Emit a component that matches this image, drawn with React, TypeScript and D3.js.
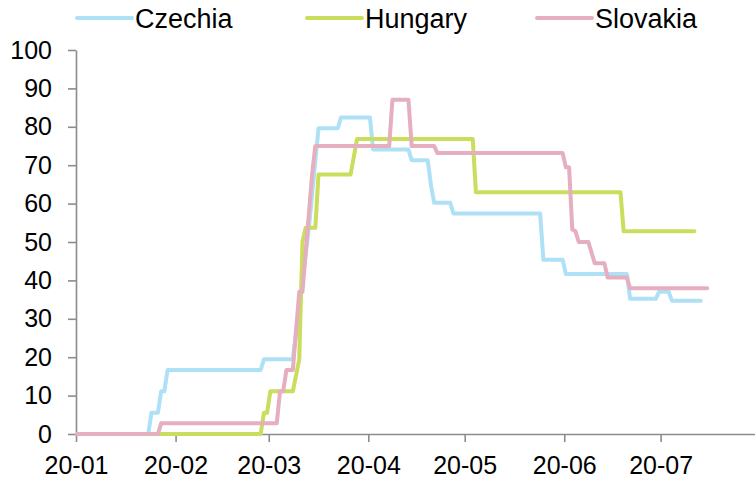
import React, { useEffect, useRef } from 'react';
import * as d3 from 'd3';

// stringency index, breakpoints of the daily step series
const czechiaDates = ["2020-01-01","2020-01-23","2020-01-24","2020-01-26","2020-01-27","2020-01-28","2020-01-29","2020-02-27","2020-02-28","2020-03-08","2020-03-13","2020-03-16","2020-03-22","2020-03-23","2020-04-01","2020-04-02","2020-04-13","2020-04-14","2020-04-19","2020-04-20","2020-04-21","2020-04-26","2020-04-27","2020-05-24","2020-05-25","2020-05-31","2020-06-01","2020-06-20","2020-06-21","2020-06-29","2020-06-30","2020-07-03","2020-07-04","2020-07-13"];
const czechiaValues = [0,0,5.56,5.56,11.11,11.11,16.67,16.67,19.44,19.44,53.7,79.63,79.63,82.41,82.41,74.07,74.07,71.3,71.3,64.81,60.19,60.19,57.41,57.41,45.37,45.37,41.67,41.67,35.19,35.19,37.04,37.04,34.72,34.72];

const hungaryDates = ["2020-01-01","2020-02-27","2020-02-28","2020-02-29","2020-03-01","2020-03-08","2020-03-10","2020-03-11","2020-03-12","2020-03-15","2020-03-16","2020-03-26","2020-03-28","2020-05-03","2020-05-04","2020-06-18","2020-06-19","2020-07-11"];
const hungaryValues = [0,0,5.56,5.56,11.11,11.11,19.44,50,53.7,53.7,67.59,67.59,76.85,76.85,62.96,62.96,52.78,52.78];

const slovakiaDates = ["2020-01-01","2020-01-26","2020-01-27","2020-03-03","2020-03-04","2020-03-05","2020-03-06","2020-03-08","2020-03-10","2020-03-11","2020-03-14","2020-03-15","2020-04-07","2020-04-08","2020-04-13","2020-04-14","2020-04-21","2020-04-22","2020-05-31","2020-06-01","2020-06-02","2020-06-03","2020-06-04","2020-06-05","2020-06-08","2020-06-10","2020-06-13","2020-06-14","2020-06-20","2020-06-21","2020-07-15"];
const slovakiaValues = [0,0,2.78,2.78,11.11,11.11,16.67,16.67,37.04,37.04,67.59,75,75,87.04,87.04,75,75,73.15,73.15,69.44,69.44,53.24,52.78,50,50,44.44,44.44,40.74,40.74,37.96,37.96];

const seriesNames = ["Czechia", "Hungary", "Slovakia"];
const seriesColors = ["#aee0f6", "#cadd5c", "#e5afbf"];
const yTicks = [0, 10, 20, 30, 40, 50, 60, 70, 80, 90, 100];

const App = () => {
	const ref = useRef(null);

	useEffect(() => {
		var width = 755
		var height = 479
		var font = '"Liberation Sans", Arial, sans-serif'
		var axisColor = "#8c8c8c"
		var parse = d3.timeParse("%Y-%m-%d")

		var svg = d3.select(ref.current)
		svg.selectAll("*").remove()

		var x = d3.scaleTime()
			.domain([new Date(2020, 0, 1), new Date(2020, 6, 31)])
			.range([76, 757])
		var y = d3.scaleLinear().domain([0, 100]).range([434, 50])

//x axis
		var xAxis = svg.append("g")
			.attr("transform", "translate(0,434)")
			.call(d3.axisBottom(x).ticks(d3.timeMonth.every(1)).tickFormat(d3.timeFormat("%y-%m")).tickSizeInner(8).tickSizeOuter(0).tickPadding(14))
//y axis
		var yAxis = svg.append("g")
			.attr("transform", "translate(76,0)")
			.call(d3.axisLeft(y).tickValues(yTicks).tickSizeInner(8).tickSizeOuter(0).tickPadding(16))

		svg.selectAll(".domain, .tick line")
			.attr("stroke", axisColor)
			.attr("stroke-width", 1.6)
		svg.selectAll(".tick text")
			.attr("fill", "#000")
			.style("font-family", font)
			.style("font-size", "25px")

//lines
		var all = [
			[czechiaDates, czechiaValues],
			[hungaryDates, hungaryValues],
			[slovakiaDates, slovakiaValues]
		]
		var line = d3.line()
			.x(d => x(d3.timeHour.offset(d[0], 12)))
			.y(d => y(d[1]))

		all.forEach((s, i) => {
			var pts = s[0].map((d, j) => [parse(d), s[1][j]])
			svg.append("path")
				.datum(pts)
				.attr("fill", "none")
				.attr("stroke", seriesColors[i])
				.attr("stroke-width", 4)
				.attr("stroke-linejoin", "round")
				.attr("stroke-linecap", "round")
				.attr("d", line)
		})

//legend
		var legend = svg.append("g")
		seriesNames.forEach((name, i) => {
			var lx = 77 + i * 230
			legend.append("line")
				.attr("x1", lx)
				.attr("x2", lx + 55)
				.attr("y1", 18)
				.attr("y2", 18)
				.attr("stroke", seriesColors[i])
				.attr("stroke-width", 4)
				.attr("stroke-linecap", "round")
			legend.append("text")
				.attr("x", lx + 58)
				.attr("y", 28)
				.style("font-family", font)
				.style("font-size", "27px")
				.text(name)
		})
	}, []);

	return (
		<svg ref={ref} width={755} height={479} style={{ position: "absolute", left: 0, top: 0, background: "#fff" }}></svg>
	);
};

export default App;
